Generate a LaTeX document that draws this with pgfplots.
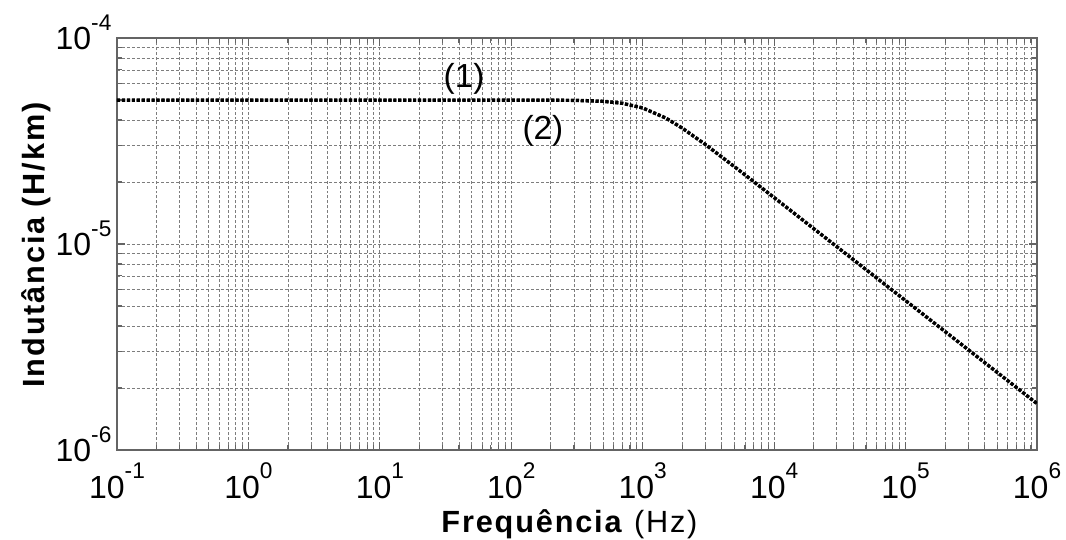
\documentclass[border=0pt]{standalone}
\usepackage{pgfplots}
\pgfplotsset{compat=1.18}
\usepackage{fontspec}
\setmainfont{Liberation Sans}
\newfontfamily\xlblfont[LetterSpace=6]{Liberation Sans}
\newfontfamily\ylblfont[LetterSpace=6]{Liberation Sans}
\newcommand\sps[1]{\raisebox{0.6em}{\fontsize{17}{18}\selectfont #1}}
\definecolor{gridgray}{RGB}{125,125,125}
\definecolor{framegray}{RGB}{100,100,100}
\begin{document}
\begin{tikzpicture}
\begin{axis}[
  name=ax,
  xmode=log, ymode=log,
  scale only axis, width=690pt, height=309pt,
  xmin=0.1, xmax=1e6, ymin=1e-6, ymax=1e-4,
  xtick={0.1,1,10,100,1000,10000,100000,1000000},
  xticklabels={10\sps{-1},10\sps{0},10\sps{1},10\sps{2},10\sps{3},10\sps{4},10\sps{5},10\sps{6}},
  ytick={1e-6,1e-5,1e-4},
  yticklabels={10\sps{-6},10\sps{-5},10\sps{-4}},
  minor xtick={0.2,0.3,0.4,0.5,0.6,0.7,0.8,0.9,
    2,3,4,5,6,7,8,9,
    20,30,40,50,60,70,80,90,
    200,300,400,500,600,700,800,900,
    2000,3000,4000,5000,6000,7000,8000,9000,
    20000,30000,40000,50000,60000,70000,80000,90000,
    200000,300000,400000,500000,600000,700000,800000,900000},
  minor ytick={2e-6,3e-6,4e-6,5e-6,6e-6,7e-6,8e-6,9e-6,
    2e-5,3e-5,4e-5,5e-5,6e-5,7e-5,8e-5,9e-5},
  grid=both,
  major grid style={gridgray, line width=0.6pt, dash pattern=on 2.2pt off 1.5pt},
  minor grid style={gridgray, line width=0.6pt, dash pattern=on 2.2pt off 1.5pt},
  axis line style={framegray, line width=1.1pt},
  tick style={framegray, line width=0.8pt},
  major tick length=6pt, minor tick length=4pt,
  tick align=inside,
  xticklabel style={font=\fontsize{24}{26}\selectfont, anchor=base, inner sep=0pt, yshift=-36pt},
  yticklabel style={font=\fontsize{24}{26}\selectfont, anchor=base east, inner sep=0pt, xshift=-4pt, yshift=-8.6pt},
  xlabel={\textbf{Frequência} (Hz)},
  xlabel style={font=\fontsize{23}{26}\selectfont\xlblfont, at={(axis description cs:0.4918,-0.199)}, anchor=base},
  ylabel={\textbf{Indutância (H/km)}},
  ylabel style={font=\fontsize{23}{26}\selectfont\ylblfont, at={(axis description cs:-0.088,0.5)}, anchor=center},
]
\addplot[black, line width=2.6pt, dash pattern=on 2.4pt off 1.3pt] coordinates {
 (0.1,5.0e-5) (1,5.0e-5) (10,5.0e-5) (100,4.9994e-5) (200,4.9954e-5)
 (300,4.9845e-5) (500,4.931e-5) (700,4.825e-5) (1000,4.579e-5)
 (1500,4.089e-5) (2000,3.654e-5) (3000,3.041e-5) (5000,2.371e-5)
 (7000,2.007e-5) (10000,1.680e-5) (20000,1.188e-5) (50000,7.513e-6)
 (100000,5.313e-6) (200000,3.757e-6) (500000,2.376e-6) (1000000,1.680e-6)
};
\addplot[black, line width=2.0pt, dash pattern=on 2.4pt off 1.3pt] coordinates {
 (0.1,4.99e-5) (1,4.99e-5) (10,4.99e-5) (100,4.988e-5) (200,4.984e-5)
 (300,4.973e-5) (500,4.918e-5) (700,4.810e-5) (1000,4.562e-5)
 (1500,4.075e-5) (2000,3.644e-5) (3000,3.035e-5) (5000,2.368e-5)
 (7000,2.005e-5) (10000,1.679e-5) (20000,1.188e-5) (50000,7.512e-6)
 (100000,5.312e-6) (200000,3.757e-6) (500000,2.376e-6) (1000000,1.680e-6)
};
\node[font=\fontsize{25}{27}\selectfont] at (axis cs:43.7,6.32e-5) {(1)};
\node[font=\fontsize{25}{27}\selectfont] at (axis cs:174,3.54e-5) {(2)};
\end{axis}
\pgfresetboundingbox
\path[use as bounding box] ([shift={(-87.75pt,-66.75pt)}]ax.south west) rectangle ([shift={(21.75pt,28.5pt)}]ax.north east);
\end{tikzpicture}
\end{document}
